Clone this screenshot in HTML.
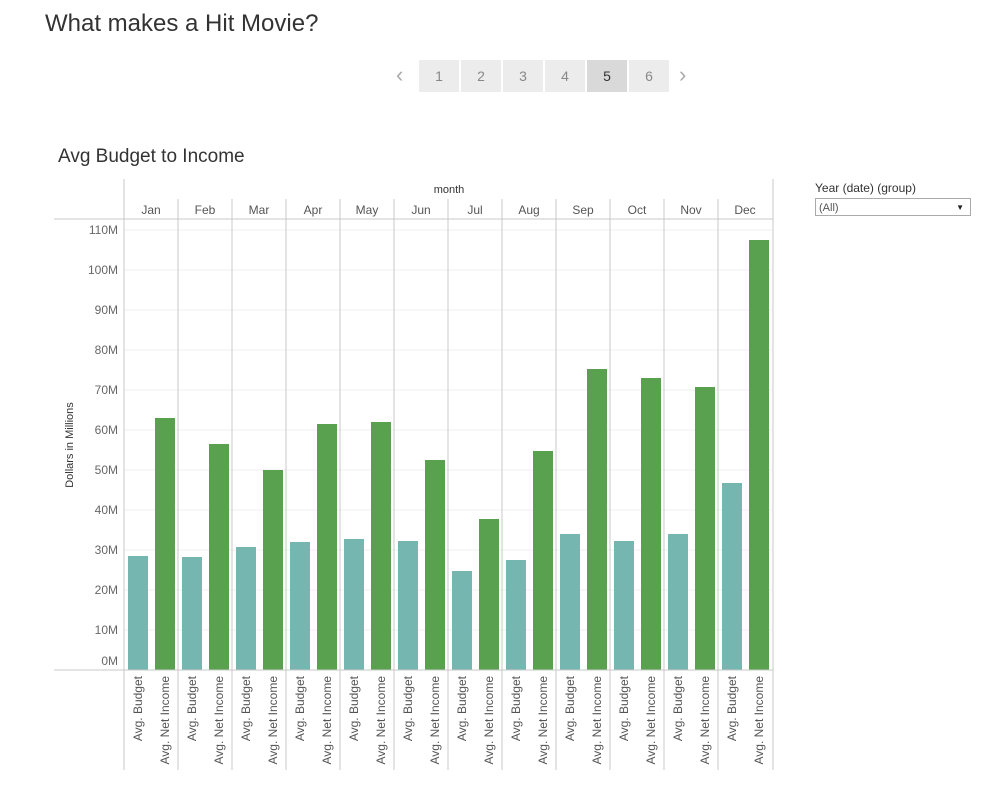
<!DOCTYPE html>
<html><head><meta charset="utf-8"><style>
body{margin:0;width:1007px;height:803px;background:#fff;font-family:"Liberation Sans",sans-serif;position:relative;overflow:hidden}
.t{position:absolute;white-space:nowrap}
.pg{position:absolute;top:60px;width:40px;height:32px;background:#ececec;color:#888;font-size:14px;text-align:center;line-height:32px}
</style></head><body>
<div class="t" style="left:45px;top:10px;font-size:24px;color:#333">What makes a Hit Movie?</div>
<div class="t" style="left:396px;top:62px;font-size:22px;color:#aaa">‹</div>
<div class="pg" style="left:419px">1</div>
<div class="pg" style="left:461px">2</div>
<div class="pg" style="left:503px">3</div>
<div class="pg" style="left:545px">4</div>
<div class="pg" style="left:587px;background:#d9d9d9;color:#333">5</div>
<div class="pg" style="left:629px">6</div>
<div class="t" style="left:679px;top:62px;font-size:22px;color:#aaa">›</div>
<div class="t" style="left:58px;top:146px;font-size:19px;color:#333">Avg Budget to Income</div>
<div class="t" style="left:815px;top:181px;font-size:12px;color:#333">Year (date) (group)</div>
<div class="t" style="left:815px;top:198px;width:156px;height:18px;border:1px solid #aaa;font-size:11px;color:#555;line-height:18px;padding-left:3px;box-sizing:border-box">(All)<span style="position:absolute;right:6px;font-size:8px;color:#222">▼</span></div>
<svg id="chart" width="1007" height="803" style="position:absolute;left:0;top:0"></svg>
<script>
const months=["Jan","Feb","Mar","Apr","May","Jun","Jul","Aug","Sep","Oct","Nov","Dec"];
const budget=[28.5,28.25,30.75,32,32.75,32.25,24.75,27.5,34,32.25,34,46.75];
const income=[63,56.5,50,61.5,62,52.5,37.75,54.75,75.25,73,70.75,107.5];
const ticks=[0,10,20,30,40,50,60,70,80,90,100,110];
const measures=["Avg. Budget","Avg. Net Income"];
const svg=document.getElementById('chart');
const NS='http://www.w3.org/2000/svg';
const x0=124,colW=54,base=670,pxPer=4;
const y=v=>base-v*pxPer;
function mk(t,a,txt){const e=document.createElementNS(NS,t);for(const k in a)e.setAttribute(k,a[k]);if(txt!==undefined)e.textContent=txt;svg.appendChild(e);return e;}
ticks.forEach(t=>{
 const g=mk('line',{x1:x0,x2:773,y1:y(t),y2:y(t),stroke:'#efefef'});
 
 
 const l=mk('text',{x:118,y:Math.min(y(t)+4,665),'text-anchor':'end','font-size':12,fill:'#666'},t+'M');
 
 
});
months.forEach((m,i)=>{
 const cx=x0+i*colW;
 const b=mk('rect',{x:cx+4,y:y(budget[i]),width:20,height:budget[i]*pxPer,fill:'#76b6b0'});
 
 
 const n=mk('rect',{x:cx+31,y:y(income[i]),width:20,height:income[i]*pxPer,fill:'#59a14f'});
 
 
 const h=mk('text',{x:cx+27,y:214,'text-anchor':'middle','font-size':12,fill:'#555'},m);
 
 
 if(i>0){const s=mk('line',{x1:cx,x2:cx,y1:199,y2:770,stroke:'#c8c8c8'});
 
 }
 measures.forEach((ms,j)=>{
  const tx=cx+14+j*27+4;
  const t=mk('text',{x:tx,y:676,'text-anchor':'end','font-size':12,fill:'#555',transform:`rotate(-90 ${tx} 676)`},ms);
  
  
 });
});
[[x0,x0,179,770],[773,773,179,770]].forEach(a=>{const e=mk('line',{x1:a[0],x2:a[1],y1:a[2],y2:a[3],stroke:'#c8c8c8'});});
[[54,773,219],[54,773,670]].forEach(a=>{const e=mk('line',{x1:a[0],x2:a[1],y1:a[2],y2:a[2],stroke:'#c8c8c8'});});
const mh=mk('text',{x:449,y:193,'text-anchor':'middle','font-size':11,fill:'#333'},'month');


const yt=mk('text',{x:73,y:445,'text-anchor':'middle','font-size':11,fill:'#333',transform:'rotate(-90 73 445)'},'Dollars in Millions');


</script>
</body></html>
